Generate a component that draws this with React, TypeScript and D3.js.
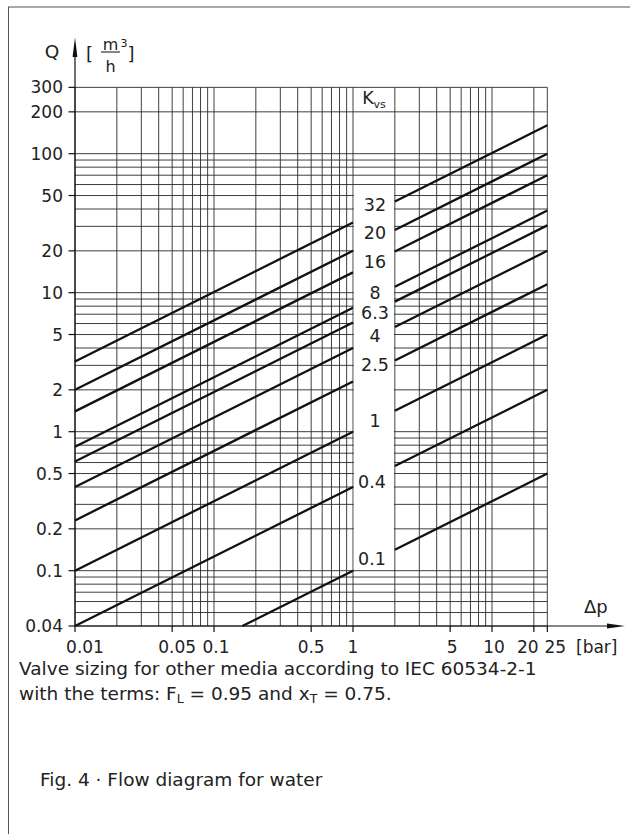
import React from "react";
import * as d3 from "d3";

// ---- data ----
const DP_TICKS = [0.01, 0.05, 0.1, 0.5, 1, 5, 10, 20, 25];
const DP_TICK_LABELS = ["0.01", "0.05", "0.1", "0.5", "1", "5", "10", "20", "25"];
const Q_TICKS = [300, 200, 100, 50, 20, 10, 5, 2, 1, 0.5, 0.2, 0.1, 0.04];
const Q_TICK_LABELS = ["300", "200", "100", "50", "20", "10", "5", "2", "1", "0.5", "0.2", "0.1", "0.04"];
const DP_GRID = [
  0.01, 0.02, 0.03, 0.04, 0.05, 0.06, 0.07, 0.08, 0.09,
  0.1, 0.2, 0.3, 0.4, 0.5, 0.6, 0.7, 0.8, 0.9,
  1, 2, 3, 4, 5, 6, 7, 8, 9, 10, 20, 25,
];
const Q_GRID = [
  0.04, 0.05, 0.06, 0.07, 0.08, 0.09,
  0.1, 0.2, 0.3, 0.4, 0.5, 0.6, 0.7, 0.8, 0.9,
  1, 2, 3, 4, 5, 6, 7, 8, 9,
  10, 20, 30, 40, 50, 60, 70, 80, 90,
  100, 200, 300,
];
const KVS_LABELS = ["32", "20", "16", "8", "6.3", "4", "2.5", "1", "0.4", "0.1"];
const KVS_LINE_VALUES = [32, 20, 14, 7.8, 6.1, 4, 2.3, 1, 0.4, 0.1];
const SEGMENTS: [number, number][] = [[0.01, 1], [2, 25]];

// ---- layout ----
const FONT = "'DejaVu Sans', sans-serif";
const LABEL_Y = [205, 233, 262, 293, 313, 336, 365, 421, 482, 559];
const DP_LABEL_DX = [10, 5, 2, 0, 0, 2, 2, -6, 8];

export default function App() {
  const decade = 139;
  const x = d3.scaleLog().domain([0.01, 25]).range([75, 75 + decade * Math.log10(2500)]);
  const y = d3.scaleLog().domain([0.04, 300]).range([626, 626 - decade * Math.log10(7500)]);
  const [qMin, qMax] = y.domain();
  const line = d3.line<[number, number]>().x((d) => x(d[0])).y((d) => y(d[1]));

  const x0 = x(0.01);
  const x1 = x(25);
  const yTop = y(300);
  const yBot = y(0.04);

  const paths: string[] = [];
  KVS_LINE_VALUES.forEach((k) => {
    SEGMENTS.forEach(([a, b]) => {
      const lo = Math.max(a, (qMin / k) ** 2);
      const hi = Math.min(b, (qMax / k) ** 2);
      if (lo < hi) {
        paths.push(line([[lo, k * Math.sqrt(lo)], [hi, k * Math.sqrt(hi)]]) || "");
      }
    });
  });

  const gapL = x(1) + 0.8;
  const gapR = x(2) - 0.8;

  return (
    <svg
      width={630}
      height={834}
      style={{ position: "absolute", left: 0, top: 0, background: "#fff" }}
      fontFamily={FONT}
    >
      <rect x={0} y={0} width={630} height={834} fill="#fff" />
      <rect x={8.5} y={7} width={700} height={900} fill="none" stroke="#555" strokeWidth={1} />

      {/* grid */}
      <g stroke="#2a2a2a" strokeWidth={0.9}>
        {DP_GRID.map((v, i) => (
          <line key={"gx" + i} x1={x(v)} x2={x(v)} y1={yTop} y2={yBot} />
        ))}
        {Q_GRID.map((v, i) => (
          <line key={"gy" + i} x1={x0} x2={x1} y1={y(v)} y2={y(v)} />
        ))}
      </g>
      {/* label gap */}
      <rect x={gapL} y={185} width={gapR - gapL} height={568.5 - 185} fill="#fff" />

      {/* Kvs lines */}
      <g stroke="#111" strokeWidth={2.3} fill="none" strokeLinecap="butt">
        {paths.map((d, i) => (
          <path key={"p" + i} d={d} />
        ))}
      </g>

      {/* axes */}
      <g stroke="#111" strokeWidth={1.2}>
        <line x1={x0} x2={x0} y1={yBot} y2={50} />
        <line x1={x0} x2={612} y1={yBot} y2={yBot} />
        {Q_TICKS.map((v, i) => (
          <line key={"ty" + i} x1={x0 - 6.5} x2={x0} y1={y(v)} y2={y(v)} />
        ))}
        {DP_TICKS.map((v, i) => (
          <line key={"tx" + i} x1={x(v)} x2={x(v)} y1={yBot} y2={yBot + 6} />
        ))}
      </g>
      <path d={`M${x0},37.5 L${x0 + 2.4},57 L${x0 - 2.4},57 Z`} fill="#111" />
      <path d={`M625,${yBot} L607,${yBot - 2.6} L607,${yBot + 2.6} Z`} fill="#111" />

      {/* tick labels */}
      <g fontSize={17} fill="#222">
        {Q_TICKS.map((v, i) => (
          <text key={"ly" + i} x={63} y={y(v)} dy="0.36em" textAnchor="end">
            {Q_TICK_LABELS[i]}
          </text>
        ))}
        {DP_TICKS.map((v, i) => (
          <text key={"lx" + i} x={x(v) + DP_LABEL_DX[i]} y={653} textAnchor="middle">
            {DP_TICK_LABELS[i]}
          </text>
        ))}
        <text x={576} y={653}>[bar]</text>
        <text x={584} y={613} fontSize={18}>Δp</text>
      </g>

      {/* Q axis label */}
      <g fill="#222">
        <text x={52} y={58} fontSize={18.5} textAnchor="middle">Q</text>
        <text x={86} y={60} fontSize={18}>[</text>
        <text x={110.5} y={50} fontSize={16} textAnchor="middle">m</text>
        <text x={120.5} y={46.5} fontSize={11}>3</text>
        <line x1={101} x2={120} y1={52} y2={52} stroke="#222" strokeWidth={1.1} />
        <text x={110.5} y={71.5} fontSize={16} textAnchor="middle">h</text>
        <text x={127.5} y={60} fontSize={18}>]</text>
      </g>

      {/* Kvs labels */}
      <g fontSize={17.5} fill="#222">
        <text x={374} y={98} dy="0.36em" textAnchor="middle">
          K<tspan fontSize={11} dy="4">vs</tspan>
        </text>
        {KVS_LABELS.map((s, i) => (
          <text
            key={"k" + i}
            x={i >= 8 ? 358 : 375}
            y={LABEL_Y[i]}
            dy="0.36em"
            textAnchor={i >= 8 ? "start" : "middle"}
          >
            {s}
          </text>
        ))}
      </g>

      {/* captions */}
      <g fontSize={18.5} fill="#222">
        <text x={19} y={675}>Valve sizing for other media according to IEC 60534-2-1</text>
        <text x={19} y={700}>
          with the terms: F<tspan fontSize={12.5} dy="3">L</tspan>
          <tspan dy="-3"> = 0.95 and x</tspan>
          <tspan fontSize={12.5} dy="3">T</tspan>
          <tspan dy="-3"> = 0.75.</tspan>
        </text>
        <text x={40} y={786}>Fig. 4 · Flow diagram for water</text>
      </g>
    </svg>
  );
}
